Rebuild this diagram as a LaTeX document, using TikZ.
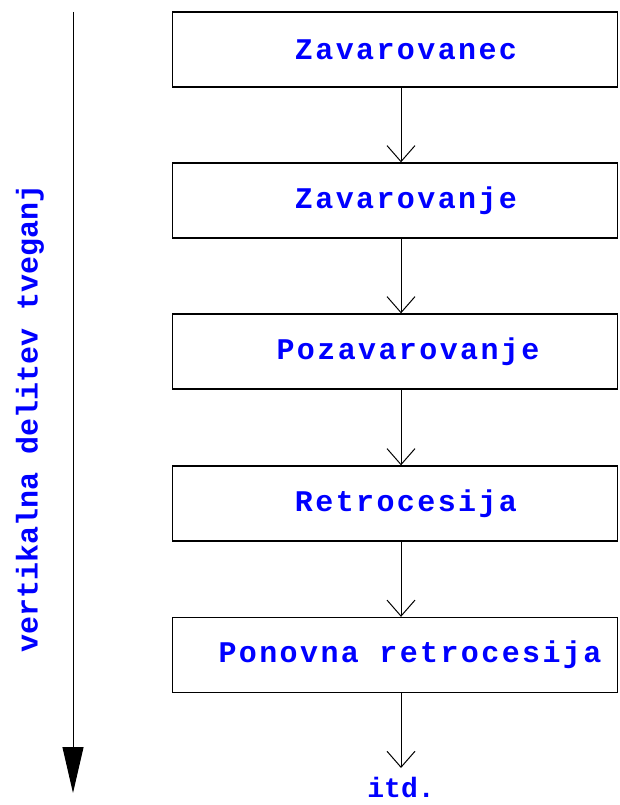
\documentclass[tikz,border=0pt]{standalone}
\usepackage{fontspec}
\usetikzlibrary{arrows.meta}
\newfontfamily\boxfont[LetterSpace=8]{Liberation Mono Bold}
\newfontfamily\sidefont{Liberation Mono Bold}
\definecolor{txtblue}{RGB}{0,0,255}
\begin{document}
\begin{tikzpicture}[x=1pt,y=-1pt,
  stage/.style={draw=black,line width=1.3pt,minimum width=445pt,minimum height=75pt,inner sep=0pt,
     font=\boxfont\fontsize{30pt}{32pt}\selectfont,text=txtblue},
  flow/.style={line width=1pt,-{Straight Barb[length=16pt,width=28pt,line width=1pt]}},
  bigarrow/.style={line width=1pt,-{Triangle[length=46pt,width=21pt]}}]
\useasboundingbox (0,0) rectangle (619,805);
\node[stage] (b1) at (395,49.5) {\hspace*{22pt}Zavarovanec};
\node[stage] (b2) at (395,200.5) {\hspace*{22pt}Zavarovanje};
\node[stage] (b3) at (395,351.5) {\hspace*{26pt}Pozavarovanje};
\node[stage] (b4) at (395,503.5) {\hspace*{22pt}Retrocesija};
\node[stage] (b5) at (395,655) {\hspace*{30pt}Ponovna retrocesija};
\node[font=\sidefont\fontsize{28pt}{30pt}\selectfont,text=txtblue,inner sep=0pt,anchor=base] (itd) at (401,797) {itd.};
\coordinate (ax) at (401,0);
\draw[flow] (b1.south -| ax) -- (b2.north -| ax);
\draw[flow] (b2.south -| ax) -- (b3.north -| ax);
\draw[flow] (b3.south -| ax) -- (b4.north -| ax);
\draw[flow] (b4.south -| ax) -- (b5.north -| ax);
\coordinate (itdtop) at (401,768);
\draw[flow] (b5.south -| ax) -- (itdtop);
\coordinate (vtop) at (73,12);
\coordinate (vbot) at (73,793);
\draw[bigarrow] (vtop) -- (vbot);
\node[font=\sidefont\fontsize{30pt}{32pt}\selectfont,text=txtblue,rotate=90,inner sep=0pt] (side) at (30,418) {vertikalna delitev tveganj};
\end{tikzpicture}
\end{document}
